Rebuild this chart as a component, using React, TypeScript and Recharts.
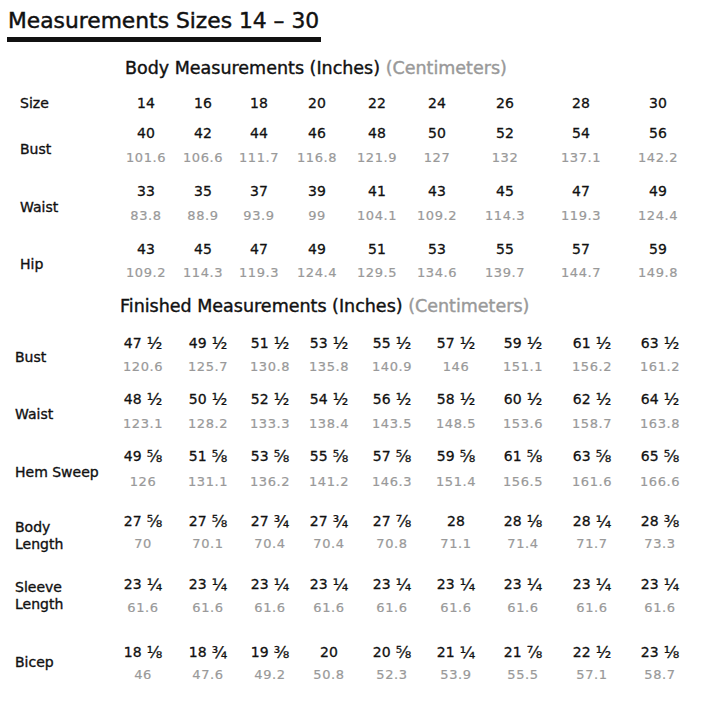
import { ScatterChart, Scatter, XAxis, YAxis, ReferenceArea } from 'recharts';

// values
const sizes = [14, 16, 18, 20, 22, 24, 26, 28, 30];

const bodyBustIn = [40, 42, 44, 46, 48, 50, 52, 54, 56];
const bodyBustCm = [101.6, 106.6, 111.7, 116.8, 121.9, 127, 132, 137.1, 142.2];
const bodyWaistIn = [33, 35, 37, 39, 41, 43, 45, 47, 49];
const bodyWaistCm = [83.8, 88.9, 93.9, 99, 104.1, 109.2, 114.3, 119.3, 124.4];
const bodyHipIn = [43, 45, 47, 49, 51, 53, 55, 57, 59];
const bodyHipCm = [109.2, 114.3, 119.3, 124.4, 129.5, 134.6, 139.7, 144.7, 149.8];

const finBustIn = [47.5, 49.5, 51.5, 53.5, 55.5, 57.5, 59.5, 61.5, 63.5];
const finBustCm = [120.6, 125.7, 130.8, 135.8, 140.9, 146, 151.1, 156.2, 161.2];
const finWaistIn = [48.5, 50.5, 52.5, 54.5, 56.5, 58.5, 60.5, 62.5, 64.5];
const finWaistCm = [123.1, 128.2, 133.3, 138.4, 143.5, 148.5, 153.6, 158.7, 163.8];
const hemSweepIn = [49.625, 51.625, 53.625, 55.625, 57.625, 59.625, 61.625, 63.625, 65.625];
const hemSweepCm = [126, 131.1, 136.2, 141.2, 146.3, 151.4, 156.5, 161.6, 166.6];
const bodyLengthIn = [27.625, 27.625, 27.75, 27.75, 27.875, 28, 28.125, 28.25, 28.375];
const bodyLengthCm = [70, 70.1, 70.4, 70.4, 70.8, 71.1, 71.4, 71.7, 73.3];
const sleeveLengthIn = [23.25, 23.25, 23.25, 23.25, 23.25, 23.25, 23.25, 23.25, 23.25];
const sleeveLengthCm = [61.6, 61.6, 61.6, 61.6, 61.6, 61.6, 61.6, 61.6, 61.6];
const bicepIn = [18.125, 18.75, 19.375, 20, 20.625, 21.25, 21.875, 22.5, 23.125];
const bicepCm = [46, 47.6, 49.2, 50.8, 52.3, 53.9, 55.5, 57.1, 58.7];

// layout (page pixels)
const bodyCols = [146, 203, 259, 317, 377, 437, 505, 581, 658];
const finCols = [143, 208, 270, 329, 392, 456, 523, 592, 660];

const FONT = '"DejaVu Sans", sans-serif';
const DARK = '#111';
const GREY = '#999';

const EIGHTHS = ['', '⅛', '¼', '⅜', '½', '⅝', '¾', '⅞'];
const splitFrac = (v: number) => {
  const whole = Math.floor(v);
  const e = Math.round((v - whole) * 8);
  return { whole: `${whole}`, frac: EIGHTHS[e] };
};

type Pt = { x: number; y: number; text: string[]; value?: number };

const bodyRows = [
  { label: ['Bust'], inches: bodyBustIn, cm: bodyBustCm, yIn: 133, yCm: 157, yLabel: 149 },
  { label: ['Waist'], inches: bodyWaistIn, cm: bodyWaistCm, yIn: 191, yCm: 215, yLabel: 207 },
  { label: ['Hip'], inches: bodyHipIn, cm: bodyHipCm, yIn: 249, yCm: 272, yLabel: 264 },
];

const finRows = [
  { label: ['Bust'], inches: finBustIn, cm: finBustCm, yIn: 343, yCm: 366, yLabel: 357 },
  { label: ['Waist'], inches: finWaistIn, cm: finWaistCm, yIn: 399, yCm: 423, yLabel: 414 },
  { label: ['Hem Sweep'], inches: hemSweepIn, cm: hemSweepCm, yIn: 456, yCm: 481, yLabel: 472 },
  { label: ['Body', 'Length'], inches: bodyLengthIn, cm: bodyLengthCm, yIn: 521, yCm: 543, yLabel: 527 },
  { label: ['Sleeve', 'Length'], inches: sleeveLengthIn, cm: sleeveLengthCm, yIn: 584, yCm: 607, yLabel: 587 },
  { label: ['Bicep'], inches: bicepIn, cm: bicepCm, yIn: 652, yCm: 674, yLabel: 662 },
];

const labelPts: Pt[] = [
  { x: 20, y: 103, text: ['Size'] },
  ...bodyRows.map((r) => ({ x: 20, y: r.yLabel, text: r.label })),
  ...finRows.map((r) => ({ x: 15, y: r.yLabel, text: r.label })),
];

const inchPts: Pt[] = [
  ...sizes.map((s, i) => ({ x: bodyCols[i], y: 103, text: [], value: s })),
  ...bodyRows.flatMap((r) => r.inches.map((v, i) => ({ x: bodyCols[i], y: r.yIn, text: [], value: v }))),
  ...finRows.flatMap((r) => r.inches.map((v, i) => ({ x: finCols[i], y: r.yIn, text: [], value: v }))),
];

const cmPts: Pt[] = [
  ...bodyRows.flatMap((r) => r.cm.map((v, i) => ({ x: bodyCols[i], y: r.yCm, text: [String(v)] }))),
  ...finRows.flatMap((r) => r.cm.map((v, i) => ({ x: finCols[i], y: r.yCm, text: [String(v)] }))),
];

const headingPts = [
  { x: 125, y: 68, text: ['Body Measurements (Inches)'] },
  { x: 120, y: 306, text: ['Finished Measurements (Inches)'] },
];

const titlePts = [{ x: 8, y: 20, text: ['Measurements Sizes 14 – 30'] }];

const LabelShape = (p: any) => {
  const lines: string[] = p.payload.text;
  return (
    <text x={p.cx} y={p.cy} fontFamily={FONT} fontSize={14} fill={DARK} stroke={DARK} strokeWidth={0.35}
      textAnchor="start" dominantBaseline="central">
      {lines.map((l, i) => (
        <tspan key={i} x={p.cx} dy={i === 0 ? 0 : 17}>{l}</tspan>
      ))}
    </text>
  );
};

const InchShape = (p: any) => {
  const { whole, frac } = splitFrac(p.payload.value);
  return (
    <text x={p.cx} y={p.cy} fontFamily={FONT} fontSize={14} fill={DARK} stroke={DARK} strokeWidth={0.3}
      textAnchor="middle" dominantBaseline="central">
      {whole}
      {frac && <tspan fontSize={16}>{' ' + frac}</tspan>}
    </text>
  );
};

const CmShape = (p: any) => (
  <text x={p.cx} y={p.cy} fontFamily={FONT} fontSize={13} fill={GREY} stroke={GREY} strokeWidth={0.2}
    textAnchor="middle" dominantBaseline="central" letterSpacing={0.6}>
    {p.payload.text[0]}
  </text>
);

const HeadingShape = (p: any) => (
  <text x={p.cx} y={p.cy} fontFamily={FONT} fontSize={17.5} fill={DARK} stroke={DARK} strokeWidth={0.4}
    textAnchor="start" dominantBaseline="central">
    {p.payload.text[0]}
    <tspan fill={GREY} stroke={GREY}> (Centimeters)</tspan>
  </text>
);

const TitleShape = (p: any) => (
  <text x={p.cx} y={p.cy} fontFamily={FONT} fontSize={21.8} fill={DARK} stroke={DARK} strokeWidth={0.45}
    textAnchor="start" dominantBaseline="central">
    {p.payload.text[0]}
  </text>
);

export default function App() {
  return (
    <div style={{ position: 'absolute', left: 0, top: 0, width: 720, height: 720, background: '#fff' }}>
      <ScatterChart width={720} height={720} margin={{ top: 0, right: 0, bottom: 0, left: 0 }}>
        <XAxis type="number" dataKey="x" domain={[0, 720]} hide allowDataOverflow />
        <YAxis type="number" dataKey="y" domain={[0, 720]} reversed hide allowDataOverflow />
        <ReferenceArea x1={7} x2={321} y1={37} y2={42} fill="#111" fillOpacity={1} stroke="none" />
        <Scatter data={titlePts} shape={TitleShape} isAnimationActive={false} />
        <Scatter data={headingPts} shape={HeadingShape} isAnimationActive={false} />
        <Scatter data={labelPts} shape={LabelShape} isAnimationActive={false} />
        <Scatter data={inchPts} shape={InchShape} isAnimationActive={false} />
        <Scatter data={cmPts} shape={CmShape} isAnimationActive={false} />
      </ScatterChart>
    </div>
  );
}
